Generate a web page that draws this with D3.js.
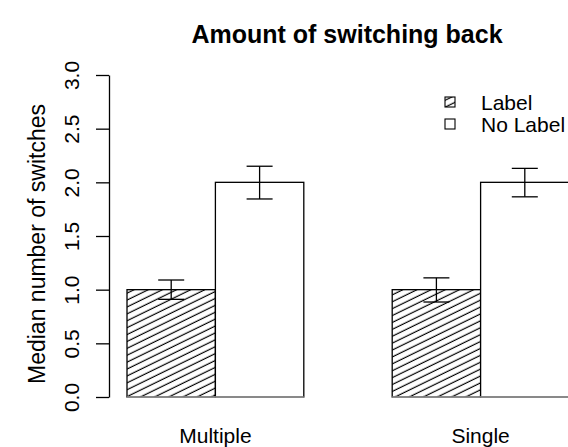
<!DOCTYPE html>
<html>
<head>
<meta charset="utf-8">
<script src="https://cdn.jsdelivr.net/npm/d3@7"></script>
<style>
  body { margin: 0; background: #fff; }
  text { font-family: "Liberation Sans", Arial, sans-serif; fill: #000; }
</style>
</head>
<body>
<script>
// data
const groups = ["Multiple", "Single"];
const series = ["Label", "No Label"];
const medians = { "Label": [1, 1], "No Label": [2, 2] };
const lower = { "Label": [0.91, 0.885], "No Label": [1.845, 1.865] };
const upper = { "Label": [1.09, 1.11], "No Label": [2.15, 2.13] };
const yTicks = [0, 0.5, 1, 1.5, 2, 2.5, 3];

const svgWidth = 568;
const svgHeight = 447;

const svg = d3.select("body")
    .append("svg")
    .attr("width", svgWidth)
    .attr("height", svgHeight);

// hatch fill for the "Label" bars
const defs = svg.append("defs");
const hatch = defs.append("pattern")
    .attr("id", "hatch")
    .attr("patternUnits", "userSpaceOnUse")
    .attr("width", 6.2)
    .attr("height", 6.2)
    .attr("patternTransform", "rotate(-26)");
hatch.append("line")
    .attr("x1", 0).attr("y1", 3)
    .attr("x2", 6.2).attr("y2", 3)
    .attr("stroke", "#000")
    .attr("stroke-width", 1.2);

const fills = { "Label": "url(#hatch)", "No Label": "#fff" };

const rows = [];
groups.forEach((g, i) => {
    series.forEach(s => {
        rows.push({ group: g, series: s, value: medians[s][i], lo: lower[s][i], hi: upper[s][i] });
    });
});

const x0 = d3.scaleBand()
    .domain(groups)
    .range([127, 569])
    .paddingInner(1 / 3)
    .paddingOuter(0);

const x1 = d3.scaleBand()
    .domain(series)
    .range([0, x0.bandwidth()]);

const yScale = d3.scaleLinear()
    .domain([0, 3])
    .range([397, 75]);

// bars
svg.append("g")
    .selectAll("rect")
    .data(rows)
    .enter()
    .append("rect")
    .attr("x", d => x0(d.group) + x1(d.series))
    .attr("y", d => yScale(d.value))
    .attr("width", x1.bandwidth())
    .attr("height", d => yScale(0) - yScale(d.value))
    .attr("fill", d => fills[d.series])
    .attr("stroke", "#000")
    .attr("stroke-width", 1.3);

// grey base line under each group
svg.append("g")
    .selectAll("line")
    .data(groups)
    .enter()
    .append("line")
    .attr("x1", d => x0(d))
    .attr("x2", d => x0(d) + x0.bandwidth())
    .attr("y1", yScale(0))
    .attr("y2", yScale(0))
    .attr("stroke", "#9a9a9a")
    .attr("stroke-width", 1.6);

// error bars
const capHalf = 13;
const err = svg.append("g")
    .attr("stroke", "#000")
    .attr("stroke-width", 1.3)
    .selectAll("g")
    .data(rows)
    .enter()
    .append("g")
    .attr("transform", d => `translate(${x0(d.group) + x1(d.series) + x1.bandwidth() / 2},0)`);
err.append("line")
    .attr("x1", 0).attr("x2", 0)
    .attr("y1", d => yScale(d.lo))
    .attr("y2", d => yScale(d.hi));
err.append("line")
    .attr("x1", -capHalf).attr("x2", capHalf)
    .attr("y1", d => yScale(d.lo))
    .attr("y2", d => yScale(d.lo));
err.append("line")
    .attr("x1", -capHalf).attr("x2", capHalf)
    .attr("y1", d => yScale(d.hi))
    .attr("y2", d => yScale(d.hi));

// y axis
const leftAxis = d3.axisLeft(yScale)
    .tickValues(yTicks)
    .tickSize(13)
    .tickSizeOuter(0)
    .tickFormat(d3.format(".1f"));

const yAxis = svg.append("g")
    .attr("transform", "translate(109,0)")
    .call(leftAxis);
yAxis.select(".domain")
    .attr("stroke", "#000")
    .attr("stroke-width", 1.3);
yAxis.selectAll(".tick line")
    .attr("stroke", "#000")
    .attr("stroke-width", 1.3);
yAxis.selectAll(".tick text")
    .attr("x", null)
    .attr("dy", null)
    .attr("transform", "translate(-30,0) rotate(-90)")
    .attr("text-anchor", "middle")
    .attr("font-size", 21)
    .attr("font-family", "Liberation Sans, Arial, sans-serif")
    .attr("fill", "#000");

// group labels
svg.append("g")
    .selectAll("text")
    .data(groups)
    .enter()
    .append("text")
    .attr("x", d => x0(d) + x0.bandwidth() / 2)
    .attr("y", 443)
    .attr("text-anchor", "middle")
    .attr("font-size", 21)
    .text(d => d);

// y label
svg.append("text")
    .attr("transform", `translate(45,${(yScale(0) + yScale(3)) / 2 + 8}) rotate(-90)`)
    .attr("text-anchor", "middle")
    .attr("font-size", 23)
    .text("Median number of switches");

// title
svg.append("text")
    .attr("x", 347)
    .attr("y", 43)
    .attr("text-anchor", "middle")
    .attr("font-size", 25)
    .attr("font-weight", "bold")
    .text("Amount of switching back");

// legend
const legend = svg.append("g")
    .selectAll("g")
    .data(series)
    .enter()
    .append("g")
    .attr("transform", (d, i) => `translate(445,${97 + i * 22})`);
legend.append("rect")
    .attr("width", 10)
    .attr("height", 10)
    .attr("fill", d => fills[d])
    .attr("stroke", "#000")
    .attr("stroke-width", 1.1);
legend.append("text")
    .attr("x", 36)
    .attr("y", 12.5)
    .attr("font-size", 21)
    .text(d => d);
</script>
</body>
</html>
